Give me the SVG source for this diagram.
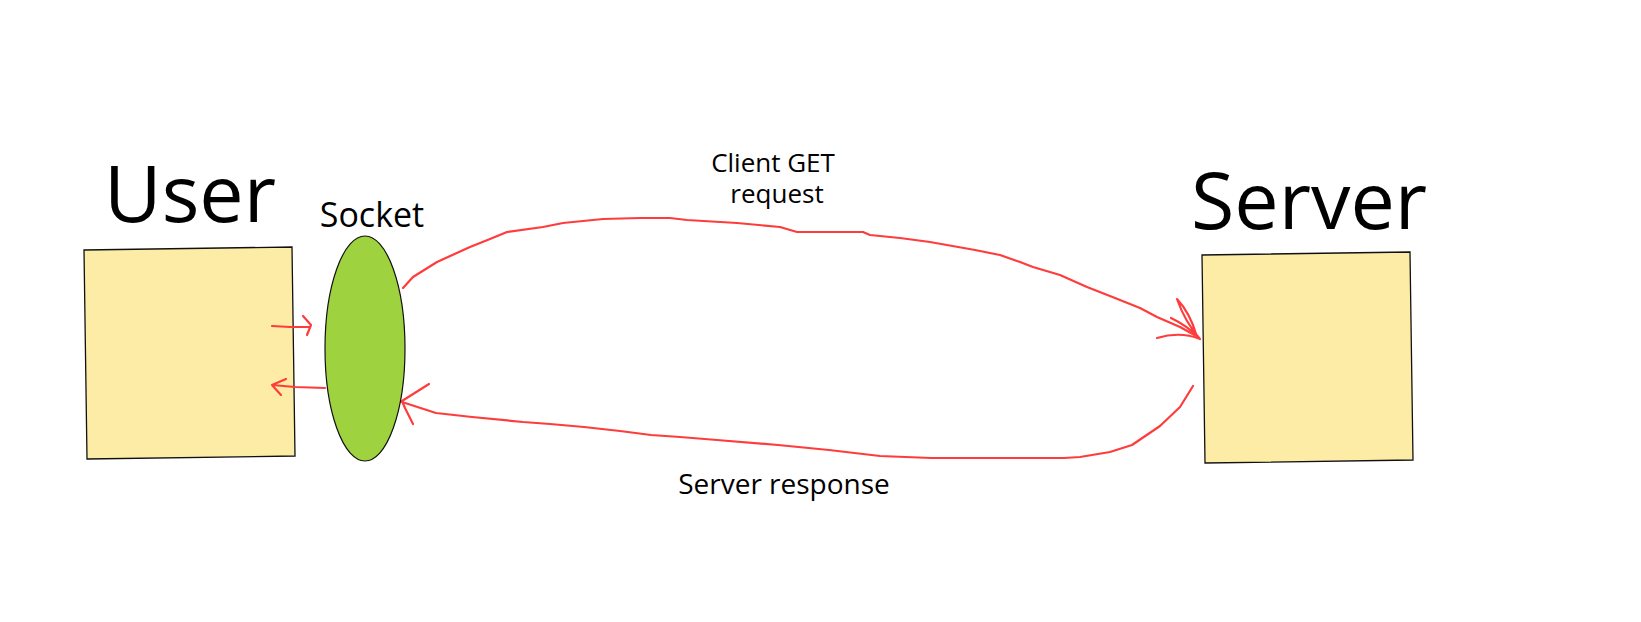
<svg xmlns="http://www.w3.org/2000/svg" width="1641" height="622" viewBox="0 0 1641 622">
<style>
.box{fill:#fdeca6;stroke:#111;stroke-width:1.3}
.sock{fill:#9ed33f;stroke:#111;stroke-width:1.2}
.t{font-family:"Open Sans","Noto Sans","Liberation Sans",sans-serif;fill:#000}
.pen{fill:none;stroke:#ff3c3c;stroke-width:2.2;stroke-linecap:round;stroke-linejoin:round}
</style>
<rect width="1641" height="622" fill="#fff"/>
<g id="user">
<polygon class="box" points="84,250 292,247 295,456 87,459"/>
<text class="t" x="190" y="222" font-size="79" text-anchor="middle">User</text>
</g>
<g id="socket">
<ellipse class="sock" cx="365" cy="348.5" rx="40" ry="112.5"/>
<text class="t" x="372" y="227" font-size="34" text-anchor="middle">Socket</text>
</g>
<g id="server">
<polygon class="box" points="1202,255 1410,252 1413,460 1205,463"/>
<text class="t" x="1309" y="229" font-size="79" text-anchor="middle">Server</text>
</g>
<g id="connectors">
<path class="pen" d="M272,326 L290,327 L310,327 M303,316 L311,325 L307,335"/>
<path class="pen" d="M325,388 L295,387 L272,385 M286,379 L272,385 L281,395"/>
<polyline class="pen" points="403,288 413,277 437,262 470,247 490,239 507,232 543,227 563,223 603,219 640,218 670,218 687,220 737,223 780,227 797,232 830,232 863,232 870,235 900,238 930,242 975,250 1000,255 1020,262 1033,267 1060,275 1087,287 1115,298 1140,308 1157,317 1180,327 1198,337"/>
<path class="pen" d="M1157,338 Q1180,331 1200,339 M1200,339 Q1185,322 1177,299 Q1190,313 1196,334 M1171,318 Q1188,326 1200,339"/>
<polyline class="pen" points="1193,386 1180,407 1160,426 1132,445 1110,452 1080,457 1064,458 1000,458 931,458 880,456 829,450 778,445 717,440 680,437 651,435 620,431 584,427 550,424 523,422 472,417 436,413 402,402"/>
<path class="pen" d="M429,384 L402,401 L405,408 L413,424"/>
<text class="t" font-size="26" text-anchor="middle"><tspan x="773" y="172">Client GET</tspan><tspan x="777" y="203">request</tspan></text>
<text class="t" x="784" y="494" font-size="28" text-anchor="middle">Server response</text>
</g>
</svg>
